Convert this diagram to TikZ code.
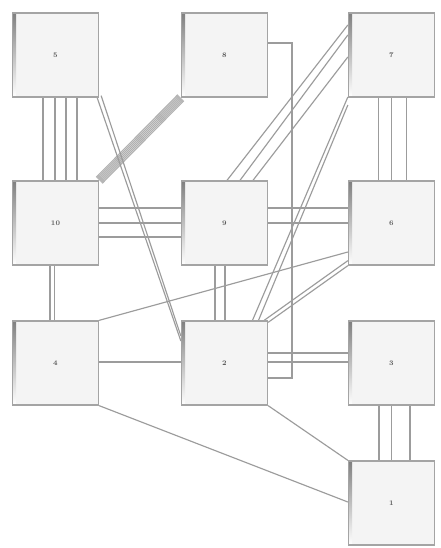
\documentclass[tikz,border=0pt]{standalone}
\definecolor{boxline}{HTML}{A4A4A4}
\definecolor{boxfill}{HTML}{F4F4F4}
\definecolor{connc}{HTML}{9C9C9C}
\definecolor{labelc}{HTML}{5A5A5A}
\definecolor{shade}{HTML}{C4C4C4}
\pgfdeclarelayer{back}
\pgfdeclarelayer{bg}
\pgfsetlayers{back,bg,main}
\begin{document}
\begin{tikzpicture}[x=1pt,y=-1pt,
  box/.style={draw=boxline, line width=1.3pt, fill=boxfill,
    minimum width=86pt, minimum height=84pt, inner sep=0pt,
    font=\fontsize{7}{8}\selectfont\bfseries, text=labelc,
    path picture={\fill[shade] (path picture bounding box.north west) rectangle ([xshift=3.5pt]path picture bounding box.south west);
                  \fill[shade] (path picture bounding box.south west) rectangle ([yshift=1.2pt]path picture bounding box.south east);}},
  conn/.style={draw=connc, line width=1.15pt},
  band/.style={draw=connc!80, line width=1.1pt}]
\begin{pgfonlayer}{back}
\useasboundingbox[fill=white] (0,0) rectangle (440,548);
\end{pgfonlayer}

\node[box] (n5)  at (55.5,55)   {5};
\node[box] (n8)  at (224.5,55)  {8};
\node[box] (n7)  at (391.5,55)  {7};
\node[box] (n10) at (55.5,223)  {10};
\node[box] (n9)  at (224.5,223) {9};
\node[box] (n6)  at (391.5,223) {6};
\node[box] (n4)  at (55.5,363)  {4};
\node[box] (n2)  at (224.5,363) {2};
\node[box] (n3)  at (391.5,363) {3};
\node[box] (n1)  at (391.5,503) {1};
\coordinate (c82) at (292,200);

\begin{pgfonlayer}{bg}
% 5 -- 10
\foreach \d in {-12.5,-0.5,10.5,21.5}
  \draw[conn] ([shift={(\d,0)}]n5.south) -- ([shift={(\d,0)}]n10.north);
% 8 -- 10 (band)
\foreach \d in {-3,-2,...,3}
  \draw[band] ([shift={(\d,\d)}]n8.south west) -- ([shift={(\d,\d)}]n10.north east);
% 5 -- 2
\draw[conn] ([shift={(-2,0)}]n5.south east) -- ([shift={(0,-22)}]n2.west);
\draw[conn] ([shift={(2,-2)}]n5.south east) -- ([shift={(0,-27)}]n2.west);
% 8 -- 2 (orthogonal)
\draw[conn] ([shift={(0,-12)}]n8.east) -| (c82) |- ([shift={(0,15)}]n2.east);
% 7 -- 9
\draw[conn] ([shift={(0,-30)}]n7.west) -- ([shift={(2.5,0)}]n9.north);
\draw[conn] ([shift={(0,-20)}]n7.west) -- ([shift={(15.5,0)}]n9.north);
\draw[conn] ([shift={(0,2)}]n7.west)   -- ([shift={(28.5,0)}]n9.north);
% 7 -- 2
\draw[conn] ([shift={(0,42)}]n7.west) -- ([shift={(28,0)}]n2.north);
\draw[conn] ([shift={(0,50)}]n7.west) -- ([shift={(34,0)}]n2.north);
% 7 -- 6
\foreach \d in {-13,0,15}
  \draw[conn] ([shift={(\d,0)}]n7.south) -- ([shift={(\d,0)}]n6.north);
% 10 -- 9
\foreach \d in {-15,0,14}
  \draw[conn] ([shift={(0,\d)}]n10.east) -- ([shift={(0,\d)}]n9.west);
% 9 -- 6
\foreach \d in {-15,0}
  \draw[conn] ([shift={(0,\d)}]n9.east) -- ([shift={(0,\d)}]n6.west);
% 10 -- 4
\foreach \d in {-5.5,-1}
  \draw[conn] ([shift={(\d,0)}]n10.south) -- ([shift={(\d,0)}]n4.north);
% 4 -- 6
\draw[conn] (n4.north east) -- ([shift={(0,29)}]n6.west);
% 2 -- 6
\draw[conn] ([shift={(-4,0)}]n2.north east) -- ([shift={(0,-5)}]n6.south west);
\draw[conn] ([shift={(0,2)}]n2.north east) -- (n6.south west);
% 9 -- 2
\foreach \d in {-9.5,0.5}
  \draw[conn] ([shift={(\d,0)}]n9.south) -- ([shift={(\d,0)}]n2.north);
% 4 -- 2
\draw[conn] ([shift={(0,-1)}]n4.east) -- ([shift={(0,-1)}]n2.west);
% 2 -- 3
\foreach \d in {-10,-1}
  \draw[conn] ([shift={(0,\d)}]n2.east) -- ([shift={(0,\d)}]n3.west);
% 3 -- 1
\foreach \d in {-12.5,0,18.5}
  \draw[conn] ([shift={(\d,0)}]n3.south) -- ([shift={(\d,0)}]n1.north);
% 2 -- 1
\draw[conn] (n2.south east) -- (n1.north west);
% 4 -- 1
\draw[conn] (n4.south east) -- ([shift={(0,-1)}]n1.west);
\end{pgfonlayer}
\end{tikzpicture}
\end{document}
